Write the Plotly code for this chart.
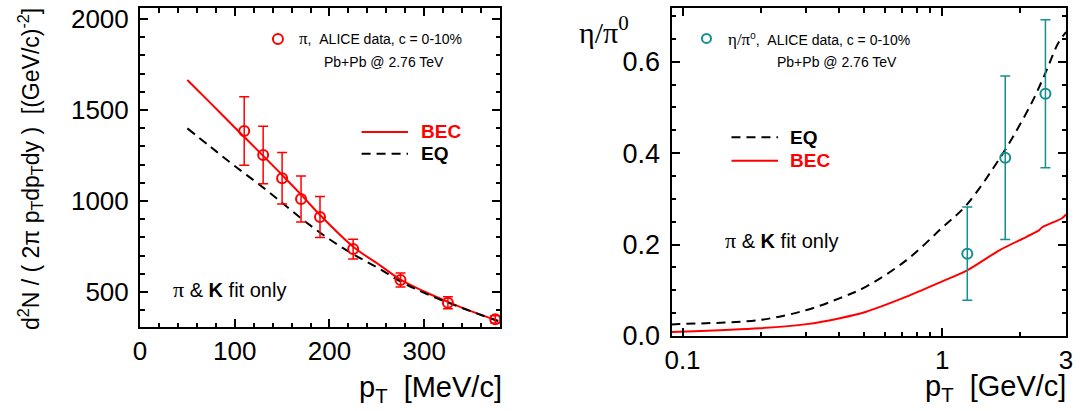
import math
import plotly.graph_objects as go

# ---------------- data ----------------
# Left panel: pion spectrum
pi_pt = [110, 130, 150, 170, 190, 225, 275, 325, 375]
pi_yield = [1385, 1253, 1125, 1011, 912, 736, 566, 441, 350]
pi_err = [188, 158, 141, 127, 113, 54, 38, 33, 20]

bec_pt_left = [50, 75, 100, 125, 150, 172, 190, 225, 253, 275, 300, 325, 350, 378]
bec_left = [1665, 1535, 1404, 1274, 1143, 1024, 923, 749, 648, 568, 503, 446, 394, 342]

eq_pt_left = [50, 75, 100, 125, 150, 175, 200, 225, 250, 275, 300, 325, 350, 378]
eq_left = [1399, 1295, 1192, 1094, 990, 885, 790, 708, 636, 558, 495, 442, 393, 340]

# Right panel: eta/pi0 ratio
eta_pt = [1.25, 1.75, 2.5]
eta_ratio = [0.180, 0.390, 0.530]
eta_err = [0.102, 0.179, 0.162]

eq_pt_right = [0.0907, 0.0973, 0.198, 0.301, 0.404, 0.510, 0.729, 0.9965, 1.243, 1.668, 1.875, 2.235, 2.519, 2.795, 3.0]
eq_right = [0.025, 0.026, 0.035, 0.057, 0.083, 0.108, 0.166, 0.236, 0.287, 0.389, 0.436, 0.515, 0.58, 0.64, 0.665]

bec_pt_right = [0.0907, 0.0973, 0.198, 0.301, 0.404, 0.510, 0.729, 0.9965, 1.243, 1.668, 2.113, 2.357, 2.428, 2.684, 2.887, 3.0]
bec_right = [0.009, 0.0095, 0.017, 0.026, 0.039, 0.053, 0.086, 0.119, 0.143, 0.188, 0.217, 0.231, 0.238, 0.249, 0.257, 0.266]

left_xticks = [0, 100, 200, 300]
left_yticks = [500, 1000, 1500, 2000]
right_xticks = [0.1, 1, 3]
right_xticklabels = ["0.1", "1", "3"]
right_xminor = [0.2, 0.3, 0.4, 0.5, 0.6, 0.7, 0.8, 0.9, 2]
right_yticks = [0.0, 0.2, 0.4, 0.6]
right_yticklabels = ["0.0", "0.2", "0.4", "0.6"]

# ---------------- styles ----------------
RED = "#ff0000"
TEAL = "#168f8f"
SANS = "Liberation Sans, Arial, sans-serif"
SERIF = "Liberation Serif"
W, H = 1080, 411

# plot areas in pixels
L_X0, L_X1, L_Y0, L_Y1 = 140, 500, 8, 327
R_X0, R_X1, R_Y0, R_Y1 = 671.5, 1066, 8, 336

fig = go.Figure()

# ---- left panel ----
fig.add_trace(go.Scatter(x=bec_pt_left, y=bec_left, mode="lines", line=dict(color=RED, width=2, shape="spline"),
                         xaxis="x", yaxis="y", showlegend=False, hoverinfo="skip"))
fig.add_trace(go.Scatter(x=eq_pt_left, y=eq_left, mode="lines",
                         line=dict(color="black", width=2, dash="9px,6px", shape="spline"),
                         xaxis="x", yaxis="y", showlegend=False, hoverinfo="skip"))
fig.add_trace(go.Scatter(x=pi_pt, y=pi_yield, mode="markers",
                         marker=dict(symbol="circle-open", size=10, color=RED, line=dict(width=2, color=RED)),
                         error_y=dict(type="data", array=pi_err, color=RED, thickness=1.5, width=5),
                         xaxis="x", yaxis="y", showlegend=False))
# legend marker (left)
fig.add_trace(go.Scatter(x=[145.6], y=[1890], mode="markers",
                         marker=dict(symbol="circle-open", size=10, color=RED, line=dict(width=2, color=RED)),
                         xaxis="x", yaxis="y", showlegend=False, hoverinfo="skip"))

# ---- right panel ----
fig.add_trace(go.Scatter(x=eq_pt_right, y=eq_right, mode="lines",
                         line=dict(color="black", width=2, dash="9px,6px", shape="spline"),
                         xaxis="x2", yaxis="y2", showlegend=False, hoverinfo="skip"))
fig.add_trace(go.Scatter(x=bec_pt_right, y=bec_right, mode="lines",
                         line=dict(color=RED, width=2, shape="spline", smoothing=0.8),
                         xaxis="x2", yaxis="y2", showlegend=False, hoverinfo="skip"))
fig.add_trace(go.Scatter(x=eta_pt, y=eta_ratio, mode="markers",
                         marker=dict(symbol="circle-open", size=10, color=TEAL, line=dict(width=2, color=TEAL)),
                         error_y=dict(type="data", array=eta_err, color=TEAL, thickness=1.5, width=5),
                         xaxis="x2", yaxis="y2", showlegend=False))
fig.add_trace(go.Scatter(x=[0.1237], y=[0.651], mode="markers",
                         marker=dict(symbol="circle-open", size=9, color=TEAL, line=dict(width=2, color=TEAL)),
                         xaxis="x2", yaxis="y2", showlegend=False, hoverinfo="skip"))

axis_common = dict(showline=True, linewidth=2, linecolor="black", mirror="ticks", ticks="inside",
                   ticklen=8, tickwidth=1.5, tickcolor="black", showgrid=False, zeroline=False,
                   automargin=False)
minor_common = dict(ticks="inside", ticklen=4.5, tickwidth=1.5, tickcolor="black")
tf26 = dict(family=SANS, size=26, color="black")
tf27 = dict(family=SANS, size=27, color="black")

fig.update_layout(
    width=W, height=H, margin=dict(l=0, r=0, t=0, b=0),
    paper_bgcolor="white", plot_bgcolor="white",
    font=dict(family=SANS, color="black"),
    xaxis=dict(domain=[L_X0 / W, L_X1 / W], range=[0, 380], anchor="y", tickvals=left_xticks,
               tickfont=tf26, minor=dict(dtick=20, tick0=0, **minor_common), **axis_common),
    yaxis=dict(domain=[1 - L_Y1 / H, 1 - L_Y0 / H], range=[308, 2060], anchor="x", tickvals=left_yticks,
               ticklabelstandoff=4, tickfont=tf26,
               minor=dict(dtick=100, tick0=0, **minor_common), **axis_common),
    xaxis2=dict(domain=[R_X0 / W, R_X1 / W], type="log", range=[-1.0424, math.log10(3)], anchor="y2",
                tickvals=right_xticks, ticktext=right_xticklabels, tickfont=tf26,
                minor=dict(tickmode="array", tickvals=right_xminor, **minor_common), **axis_common),
    yaxis2=dict(domain=[1 - R_Y1 / H, 1 - R_Y0 / H], range=[0, 0.7176], anchor="x2",
                tickvals=right_yticks, ticktext=right_yticklabels, ticklabelstandoff=4, tickfont=tf27,
                minor=dict(dtick=0.05, tick0=0, **minor_common), **axis_common),
)

pi_s = "<span style='font-family:%s;font-size:17px'>π</span>" % SERIF
pi_big = "<span style='font-family:%s;font-size:22px'>π</span>" % SERIF
eta_s = "<span style='font-family:%s;font-size:17px'>η/π</span>" % SERIF

annotations = [
    # left panel legend / labels
    dict(xref="x domain", yref="y domain", x=0.4356, y=0.903, xanchor="left", yanchor="middle",
         text=pi_s + ",  ALICE data, c = 0-10%", font=dict(size=14), showarrow=False),
    dict(xref="x domain", yref="y domain", x=0.5055, y=0.832, xanchor="left", yanchor="middle",
         text="Pb+Pb @ 2.76 TeV", font=dict(size=14), showarrow=False),
    dict(xref="x domain", yref="y domain", x=0.776, y=0.6115, xanchor="left", yanchor="middle",
         text="<b>BEC</b>", font=dict(size=19, color=RED), showarrow=False),
    dict(xref="x domain", yref="y domain", x=0.776, y=0.5428, xanchor="left", yanchor="middle",
         text="<b>EQ</b>", font=dict(size=19, color="black"), showarrow=False),
    dict(xref="x domain", yref="y domain", x=0.0865, y=0.119, xanchor="left", yanchor="middle",
         text=pi_big + " & <b>K</b> fit only", font=dict(size=20), showarrow=False),
    # right panel legend / labels
    dict(xref="x2 domain", yref="y2 domain", x=0.139, y=0.9046, xanchor="left", yanchor="middle",
         text=eta_s + "<sup>0</sup>,  ALICE data, c = 0-10%", font=dict(size=14), showarrow=False),
    dict(xref="x2 domain", yref="y2 domain", x=0.2613, y=0.8344, xanchor="left", yanchor="middle",
         text="Pb+Pb @ 2.76 TeV", font=dict(size=14), showarrow=False),
    dict(xref="x2 domain", yref="y2 domain", x=0.296, y=0.6058, xanchor="left", yanchor="middle",
         text="<b>EQ</b>", font=dict(size=19, color="black"), showarrow=False),
    dict(xref="x2 domain", yref="y2 domain", x=0.296, y=0.5345, xanchor="left", yanchor="middle",
         text="<b>BEC</b>", font=dict(size=19, color=RED), showarrow=False),
    dict(xref="x2 domain", yref="y2 domain", x=0.130, y=0.2906, xanchor="left", yanchor="middle",
         text=pi_big + " & <b>K</b> fit only", font=dict(size=20), showarrow=False),
    # axis titles
    dict(xref="paper", yref="paper", x=504 / W, y=1 - 389 / H, xanchor="right", yanchor="middle",
         text="p<sub>T</sub>  [MeV/c]", font=dict(size=29), showarrow=False),
    dict(xref="paper", yref="paper", x=1068 / W, y=1 - 388 / H, xanchor="right", yanchor="middle",
         text="p<sub>T</sub>  [GeV/c]", font=dict(size=29), showarrow=False),
    dict(xref="paper", yref="paper", x=30 / W, y=1 - 169 / H, xanchor="center", yanchor="middle",
         textangle=-90,
         text="d<sup>2</sup>N / ( 2π p<sub>T</sub>dp<sub>T</sub>dy )  [(GeV/c)<sup>-2</sup>]",
         font=dict(size=23), showarrow=False),
    dict(xref="paper", yref="paper", x=604 / W, y=1 - 30 / H, xanchor="center", yanchor="middle",
         text="η/π<sup>0</sup>", font=dict(size=30, family=SERIF), showarrow=False),
]
fig.update_layout(annotations=annotations)

shapes = [
    dict(type="line", xref="x domain", yref="y domain", x0=0.6155, x1=0.7445, y0=0.6115, y1=0.6115,
         line=dict(color=RED, width=2)),
    dict(type="line", xref="x domain", yref="y domain", x0=0.6155, x1=0.7445, y0=0.5428, y1=0.5428,
         line=dict(color="black", width=2, dash="9px,6px")),
    dict(type="line", xref="x2 domain", yref="y2 domain", x0=0.152, x1=0.270, y0=0.6058, y1=0.6058,
         line=dict(color="black", width=2, dash="9px,6px")),
    dict(type="line", xref="x2 domain", yref="y2 domain", x0=0.152, x1=0.270, y0=0.5345, y1=0.5345,
         line=dict(color=RED, width=2)),
]
fig.update_layout(shapes=shapes)

fig.write_html("out.html", config={"displayModeBar": False},
               post_script="document.body.style.margin='0px';document.body.style.overflow='hidden';")
